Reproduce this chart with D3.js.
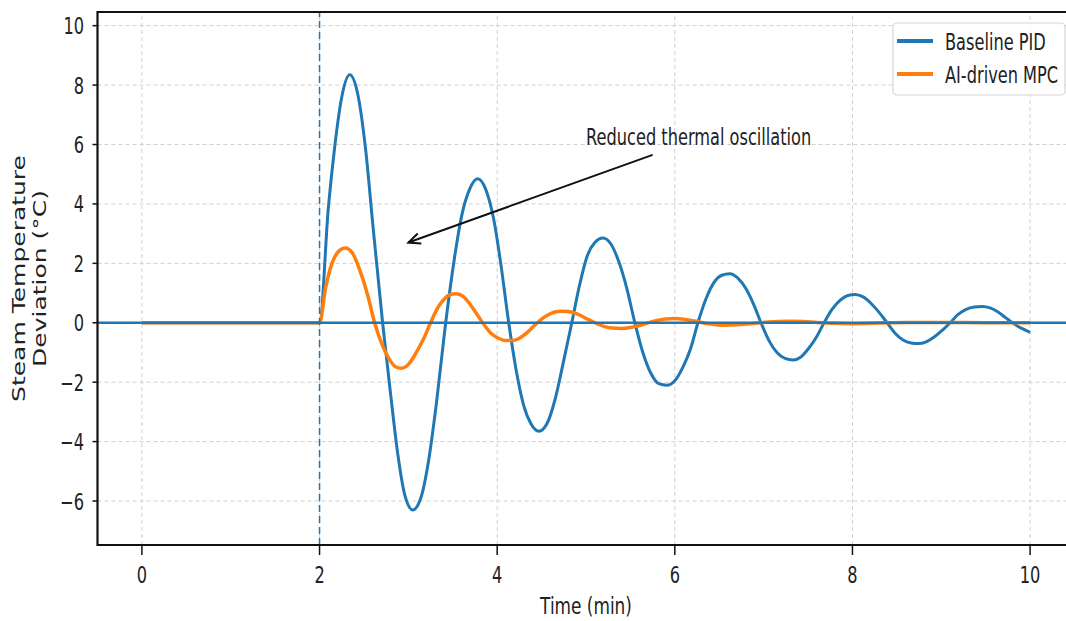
<!DOCTYPE html>
<html>
<head>
<meta charset="utf-8">
<script src="https://cdn.jsdelivr.net/npm/d3@7"></script>
<style>
  body { margin: 0; background: #fff; }
  text { font-family: "DejaVu Sans", sans-serif; fill: #222; }
</style>
</head>
<body>
<div id="chart"></div>
<script>
// data //
var xTicks = [0, 2, 4, 6, 8, 10];
var yTicks = [-6, -4, -2, 0, 2, 4, 6, 8, 10];
var seriesNames = ['Baseline PID', 'AI-driven MPC'];

var pidT = [0, 2.0, 2.1, 2.17, 2.25, 2.34, 2.43, 2.52, 2.6, 2.71, 2.8, 2.88, 2.96, 3.05, 3.14, 3.23, 3.32, 3.42,
  3.52, 3.6, 3.69, 3.78, 3.87, 3.96, 4.04, 4.13, 4.22, 4.3, 4.38, 4.47, 4.56, 4.65, 4.74, 4.84,
  4.93, 5.02, 5.1, 5.19, 5.28, 5.37, 5.46, 5.55, 5.64, 5.73, 5.82, 5.91, 6.0, 6.09, 6.18, 6.26,
  6.35, 6.44, 6.53, 6.62, 6.71, 6.8, 6.89, 6.97, 7.06, 7.15, 7.24, 7.33, 7.42, 7.51, 7.6, 7.68,
  7.77, 7.86, 7.95, 8.03, 8.12, 8.21, 8.3, 8.39, 8.48, 8.57, 8.66, 8.74, 8.83, 8.92, 9.01, 9.1,
  9.19, 9.28, 9.37, 9.46, 9.55, 9.64, 9.72, 9.81, 9.9, 10.0];
var pidV = [0, 0, 3.9, 5.9, 7.6, 8.35, 7.7, 5.8, 3.3, 0, -2.4, -4.4, -5.8, -6.3, -5.9, -4.6, -2.6, 0,
  2.2, 3.6, 4.5, 4.85, 4.5, 3.5, 2.0, 0, -1.7, -2.8, -3.4, -3.65, -3.4, -2.6, -1.4, 0,
  1.3, 2.3, 2.7, 2.85, 2.65, 2.05, 1.15, 0, -1.0, -1.7, -2.05, -2.1, -1.95, -1.5, -0.85, 0,
  0.8, 1.35, 1.6, 1.65, 1.5, 1.15, 0.6, 0, -0.6, -1.0, -1.2, -1.25, -1.15, -0.85, -0.45, 0,
  0.45, 0.75, 0.92, 0.95, 0.87, 0.65, 0.35, 0, -0.35, -0.58, -0.68, -0.7, -0.64, -0.48, -0.26, 0,
  0.28, 0.45, 0.53, 0.55, 0.5, 0.36, 0.18, -0.02, -0.18, -0.32];

var mpcT = [0, 2.0, 2.07, 2.14, 2.22, 2.29, 2.37, 2.45, 2.54, 2.62, 2.7, 2.78, 2.85, 2.92, 3.0, 3.08, 3.17, 3.25,
  3.33, 3.41, 3.48, 3.54, 3.62, 3.7, 3.78, 3.86, 3.94, 4.02, 4.1, 4.17, 4.25, 4.33, 4.41, 4.49,
  4.57, 4.65, 4.73, 4.8, 4.9, 5.0, 5.1, 5.2, 5.3, 5.4, 5.5, 5.6, 5.7, 5.8, 5.9, 6.0, 6.1, 6.2,
  6.3, 6.4, 6.55, 6.7, 6.85, 7.0, 7.15, 7.3, 7.45, 7.6, 7.8, 8.0, 8.3, 8.6, 9.0, 9.5, 10.0];
var mpcV = [0, 0, 1.2, 2.0, 2.42, 2.52, 2.35, 1.8, 0.95, 0, -0.7, -1.2, -1.47, -1.53, -1.4, -1.05, -0.55, 0,
  0.5, 0.82, 0.96, 0.98, 0.88, 0.6, 0.25, -0.1, -0.38, -0.53, -0.6, -0.6, -0.52, -0.35, -0.12, 0.1,
  0.26, 0.36, 0.39, 0.38, 0.3, 0.15, 0, -0.12, -0.18, -0.19, -0.16, -0.09, 0, 0.08, 0.13, 0.14, 0.12, 0.07,
  0.01, -0.04, -0.08, -0.07, -0.03, 0.01, 0.04, 0.05, 0.04, 0.01, -0.02, -0.03, -0.01, 0.01, 0.01, 0, 0];

var disturbanceT = 2;
var annoText = 'Reduced thermal oscillation';
var annoTextXY = [5, 6];
var annoTailXY = [5.75, 5.65];
var annoTipXY = [3, 2.7];

// set up //
var W = 1066, H = 621;
var blue = '#1f77b4', orange = '#ff7f0e';
var SX = 0.72; // picture is squeezed sideways

var x = d3.scaleLinear().domain([-0.5, 10.5]).range([97.5, 1074.5]);
var y = d3.scaleLinear().domain([-7.48, 10.46]).range([545, 12]);

var svg = d3.select('#chart').append('svg')
  .attr('width', W)
  .attr('height', H);

svg.append('defs').append('clipPath').attr('id', 'plot')
  .append('rect')
  .attr('x', x.range()[0]).attr('y', y.range()[1])
  .attr('width', x.range()[1] - x.range()[0])
  .attr('height', y.range()[0] - y.range()[1]);

// squeezed text helper
function label(g, px, py, str, size, anchor) {
  return g.append('text')
    .attr('transform', 'translate(' + px + ',' + py + ') scale(' + SX + ',1)')
    .attr('text-anchor', anchor)
    .style('font-size', size + 'px')
    .text(str);
}

// grid //
var grid = svg.append('g').attr('clip-path', 'url(#plot)');
grid.selectAll('.gx').data(xTicks).enter().append('line')
  .attr('x1', function(d) { return x(d); }).attr('x2', function(d) { return x(d); })
  .attr('y1', y.range()[0]).attr('y2', y.range()[1])
  .attr('stroke', '#d0d0d0').attr('stroke-width', 1).attr('stroke-dasharray', '4,3');
grid.selectAll('.gy').data(yTicks).enter().append('line')
  .attr('x1', x.range()[0]).attr('x2', x.range()[1])
  .attr('y1', function(d) { return y(d); }).attr('y2', function(d) { return y(d); })
  .attr('stroke', '#d0d0d0').attr('stroke-width', 1).attr('stroke-dasharray', '4,3');

// lines //
var plot = svg.append('g').attr('clip-path', 'url(#plot)');
var line = d3.line()
  .x(function(d) { return x(d[0]); })
  .y(function(d) { return y(d[1]); })
  .curve(d3.curveMonotoneX);

var pid = d3.zip(pidT, pidV);
var mpc = d3.zip(mpcT, mpcV);

plot.append('path').datum(pid)
  .attr('d', line).attr('fill', 'none')
  .attr('stroke', blue).attr('stroke-width', 3).attr('stroke-linejoin', 'round');
plot.append('path').datum(mpc)
  .attr('d', line).attr('fill', 'none')
  .attr('stroke', orange).attr('stroke-width', 3.5).attr('stroke-linejoin', 'round');

// zero line and disturbance marker
plot.append('line')
  .attr('x1', x.range()[0]).attr('x2', x.range()[1])
  .attr('y1', y(0)).attr('y2', y(0))
  .attr('stroke', blue).attr('stroke-width', 2.5);
plot.append('line')
  .attr('x1', x(disturbanceT)).attr('x2', x(disturbanceT))
  .attr('y1', y.range()[0]).attr('y2', y.range()[1])
  .attr('stroke', blue).attr('stroke-width', 1.5).attr('stroke-dasharray', '7,4');

// spines //
svg.append('path')
  .attr('d', 'M' + x.range()[1] + ',' + y.range()[1] + 'H' + x.range()[0] + 'V' + y.range()[0] + 'H' + x.range()[1])
  .attr('fill', 'none').attr('stroke', '#111').attr('stroke-width', 2.2);

// ticks //
var axX = svg.append('g');
axX.selectAll('line').data(xTicks).enter().append('line')
  .attr('x1', function(d) { return x(d); }).attr('x2', function(d) { return x(d); })
  .attr('y1', y.range()[0]).attr('y2', y.range()[0] + 10)
  .attr('stroke', '#111').attr('stroke-width', 1.5);
xTicks.forEach(function(d) { label(axX, x(d), 583, d3.format('d')(d), 22.5, 'middle'); });

var axY = svg.append('g');
axY.selectAll('line').data(yTicks).enter().append('line')
  .attr('x1', x.range()[0] - 5).attr('x2', x.range()[0])
  .attr('y1', function(d) { return y(d); }).attr('y2', function(d) { return y(d); })
  .attr('stroke', '#111').attr('stroke-width', 1.5);
yTicks.forEach(function(d) {
  label(axY, 84, y(d) + 8.5, d < 0 ? '\u2212' + Math.abs(d) : String(d), 22.5, 'end');
});

// axis labels //
label(svg, (x.range()[0] + x.range()[1]) / 2, 614, 'Time (min)', 23.5, 'middle');

var yl = svg.append('text')
  .attr('transform', 'translate(29,' + ((y.range()[0] + y.range()[1]) / 2) + ') rotate(-90) scale(1,' + SX + ')')
  .attr('text-anchor', 'middle')
  .style('font-size', '25px');
yl.append('tspan').attr('x', 0).attr('dy', '-0.25em').text('Steam Temperature');
yl.append('tspan').attr('x', 0).attr('dy', '1.22em').text('Deviation (\u00b0C)');

// annotation //
label(svg, x(annoTextXY[0]), y(annoTextXY[1]), annoText, 22.5, 'start');
var tail = [x(annoTailXY[0]), y(annoTailXY[1])];
var tip = [x(annoTipXY[0]), y(annoTipXY[1])];
var ang = Math.atan2(tip[1] - tail[1], tip[0] - tail[0]);
var hl = 13, ha = 0.42;
svg.append('line')
  .attr('x1', tail[0]).attr('y1', tail[1]).attr('x2', tip[0]).attr('y2', tip[1])
  .attr('stroke', '#111').attr('stroke-width', 2);
svg.append('path')
  .attr('d', 'M' + (tip[0] - hl * Math.cos(ang - ha)) + ',' + (tip[1] - hl * Math.sin(ang - ha)) +
    'L' + tip[0] + ',' + tip[1] +
    'L' + (tip[0] - hl * Math.cos(ang + ha)) + ',' + (tip[1] - hl * Math.sin(ang + ha)))
  .attr('fill', 'none').attr('stroke', '#111').attr('stroke-width', 2);

// legend //
var leg = svg.append('g');
leg.append('rect')
  .attr('x', 893).attr('y', 23).attr('width', 172).attr('height', 72).attr('rx', 4)
  .attr('fill', '#fff').attr('fill-opacity', 0.85)
  .attr('stroke', '#d5d5d5').attr('stroke-width', 1.2);
[blue, orange].forEach(function(c, i) {
  var ly = 41 + i * 33;
  leg.append('line')
    .attr('x1', 897).attr('x2', 933).attr('y1', ly).attr('y2', ly)
    .attr('stroke', c).attr('stroke-width', 4);
  label(leg, 945, ly + 9, seriesNames[i], 22.5, 'start');
});
</script>
</body>
</html>
